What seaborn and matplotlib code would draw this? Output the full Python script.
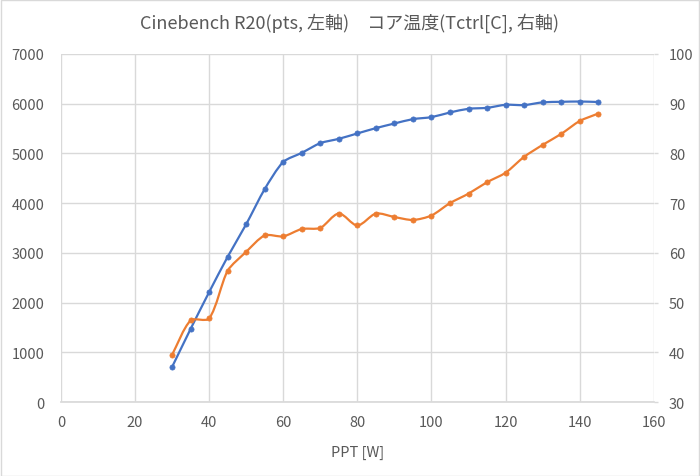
import matplotlib
matplotlib.use('Agg')
import matplotlib.pyplot as plt
from matplotlib.path import Path
from matplotlib.patches import PathPatch, Rectangle
import numpy as np
import pandas as pd
import seaborn as sns

# データ
ppt = [30, 35, 40, 45, 50, 55, 60, 65, 70, 75, 80, 85,
       90, 95, 100, 105, 110, 115, 120, 125, 130, 135, 140, 145]
cinebench = [705, 1470, 2210, 2920, 3575, 4282, 4827, 5010, 5205, 5292, 5400, 5507,
             5600, 5688, 5728, 5822, 5896, 5915, 5976, 5970, 6025, 6036, 6042, 6032]
tctrl = [39.5, 46.4, 46.8, 56.4, 60.2, 63.5, 63.3, 64.8, 65.0, 67.9, 65.5, 67.9,
         67.2, 66.6, 67.5, 70.0, 71.9, 74.2, 76.1, 79.3, 81.7, 83.9, 86.5, 88.0]

x_ticks = [0, 20, 40, 60, 80, 100, 120, 140, 160]
left_ticks = [0, 1000, 2000, 3000, 4000, 5000, 6000, 7000]
right_ticks = [30, 40, 50, 60, 70, 80, 90, 100]

BLUE = '#4472C4'
ORANGE = '#ED7D31'
TEXT = '#595959'
GRID = '#D9D9D9'


def smooth_path(a, x, y, t=0.25):
    # Excel風のスムージング線：画面座標で接線を求め、隣の区間の長さで制御点を決める
    p = a.transData.transform(np.column_stack([x, y]))
    n = len(p)
    tang = np.zeros_like(p)
    for i in range(n):
        d = p[min(i + 1, n - 1)] - p[max(i - 1, 0)]
        tang[i] = d / np.hypot(*d)
    verts = [p[0]]
    codes = [Path.MOVETO]
    for i in range(n - 1):
        seg = np.hypot(*(p[i + 1] - p[i]))
        verts += [p[i] + tang[i] * seg * t, p[i + 1] - tang[i + 1] * seg * t, p[i + 1]]
        codes += [Path.CURVE4] * 3
    verts = a.transData.inverted().transform(np.array(verts))
    return Path(verts, codes)


sns.set_theme(style='white')
plt.rcParams['font.family'] = ['Noto Sans CJK JP', 'DejaVu Sans']

df = pd.DataFrame({'PPT': ppt, 'Cinebench': cinebench, 'Tctrl': tctrl})

fig = plt.figure(figsize=(7, 4.77), dpi=100)
ax = fig.add_axes([0.087, 0.155, 0.847, 0.730])
ax2 = ax.twinx()

ax.set_xlim(0, 160)
ax.set_ylim(0, 7000)
ax2.set_ylim(30, 100)
ax.set_xticks(x_ticks)
ax.set_yticks(left_ticks)
ax2.set_yticks(right_ticks)

# 折れ線（スムージング）
ax.add_patch(PathPatch(smooth_path(ax, ppt, cinebench), facecolor='none',
                       edgecolor=BLUE, lw=1.6, zorder=3))
ax2.add_patch(PathPatch(smooth_path(ax2, ppt, tctrl), facecolor='none',
                        edgecolor=ORANGE, lw=1.6, zorder=3))

# マーカー
sns.scatterplot(data=df, x='PPT', y='Cinebench', ax=ax, color=BLUE, s=14,
                edgecolor=BLUE, linewidth=0.5, zorder=4, legend=False)
sns.scatterplot(data=df, x='PPT', y='Tctrl', ax=ax2, color=ORANGE, s=14,
                edgecolor=ORANGE, linewidth=0.5, zorder=4, legend=False)

ax.set_xlim(0, 160)
ax.set_ylim(0, 7000)
ax2.set_ylim(30, 100)

ax.grid(True, color=GRID, lw=1)
ax2.grid(False)

for a in (ax, ax2):
    for s in a.spines.values():
        s.set_visible(False)
ax.spines['bottom'].set_visible(True)
ax.spines['bottom'].set_color(GRID)

ax.tick_params(axis='x', length=0, pad=9, labelsize=10.5, labelcolor=TEXT)
ax.tick_params(axis='y', length=0, pad=12, labelsize=10.5, labelcolor=TEXT)
ax2.tick_params(axis='y', length=3, width=1, color=GRID, pad=8,
                labelsize=10.5, labelcolor=TEXT)

ax.set_xlabel('PPT [W]', fontsize=10.5, color=TEXT, labelpad=12)
ax.set_ylabel('')
ax2.set_ylabel('')

fig.text(0.5, 1 - 29 / 477, 'Cinebench R20(pts, 左軸)\u3000コア温度(Tctrl[C], 右軸)',
         ha='center', va='baseline', fontsize=13, color=TEXT)

# グラフエリアの枠
fig.patches.append(Rectangle((0.001, 0.001), 0.998, 0.997, transform=fig.transFigure,
                             facecolor='none', edgecolor=GRID, lw=1))

fig.savefig('out.png', dpi=100)
